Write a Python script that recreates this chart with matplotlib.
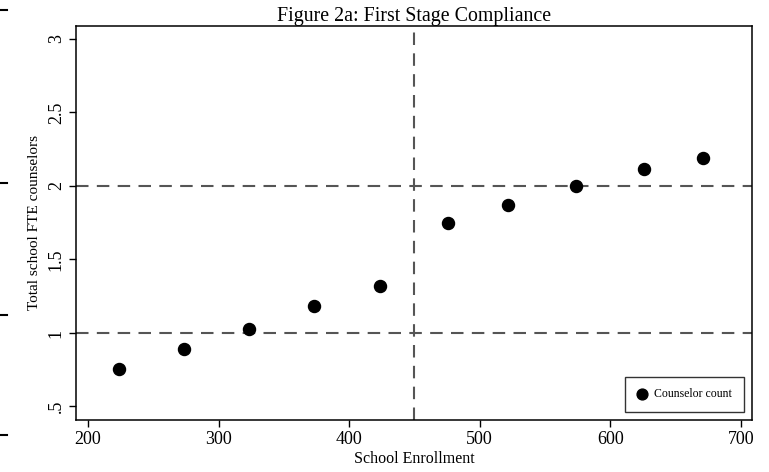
import matplotlib
matplotlib.use("Agg")
import matplotlib.pyplot as plt
from matplotlib.lines import Line2D

# Binned school enrollment vs. mean counselor FTE
enrollment = [224, 273.5, 323, 373, 423.5, 476, 521.5, 574, 626, 671]
counselors = [0.755, 0.893, 1.027, 1.186, 1.32, 1.748, 1.871, 2.0, 2.114, 2.19]
cutoff = 450
thresholds = [1, 2]
xticks = [200, 300, 400, 500, 600, 700]
yticks = [0.5, 1, 1.5, 2, 2.5, 3]
ytick_labels = [".5", "1", "1.5", "2", "2.5", "3"]

plt.rcParams["font.family"] = ["Liberation Serif", "DejaVu Serif"]

fig = plt.figure(figsize=(7.69, 4.72), dpi=100)
ax = fig.add_axes([76 / 769, 1 - 420 / 472, (752 - 76) / 769, (420 - 26) / 472])

for t in thresholds:
    ax.axhline(t, color="#555555", lw=1.5, ls=(0, (6, 4)), zorder=1)
ax.axvline(cutoff, color="#555555", lw=1.5, ls=(0, (6, 4)), zorder=1)

ax.scatter(enrollment, counselors, s=75, color="black", zorder=3, label="Counselor count")

ax.set_xlim(190.8, 708.5)
ax.set_ylim(0.408, 3.088)
ax.set_xticks(xticks)
ax.set_xticklabels([str(v) for v in xticks], fontsize=13)
ax.set_yticks(yticks)
ax.set_yticklabels(ytick_labels, fontsize=13, rotation=90, va="center")
ax.tick_params(direction="out", length=5, width=1, color="black", pad=3)
for sp in ax.spines.values():
    sp.set_linewidth(1.1)
    sp.set_color("black")

ax.set_xlabel("School Enrollment", fontsize=11.5, labelpad=2)
ax.set_ylabel("Total school FTE counselors", fontsize=11, labelpad=5)
ax.set_title("Figure 2a: First Stage Compliance", fontsize=14.3, pad=2)

leg = ax.legend(loc="lower right", fontsize=8.5, frameon=True, fancybox=False,
                edgecolor="black", borderpad=1.0, handletextpad=0.5,
                handlelength=1.0, markerscale=0.9, bbox_to_anchor=(0.9965, 0.005))
leg.get_frame().set_linewidth(1.0)

# short page marks along the left margin
for yp in [10, 183, 315, 435]:
    fig.add_artist(Line2D([0, 7 / 769], [1 - yp / 472] * 2, color="black", lw=1.5,
                          transform=fig.transFigure))

fig.savefig("out.png", dpi=100)
